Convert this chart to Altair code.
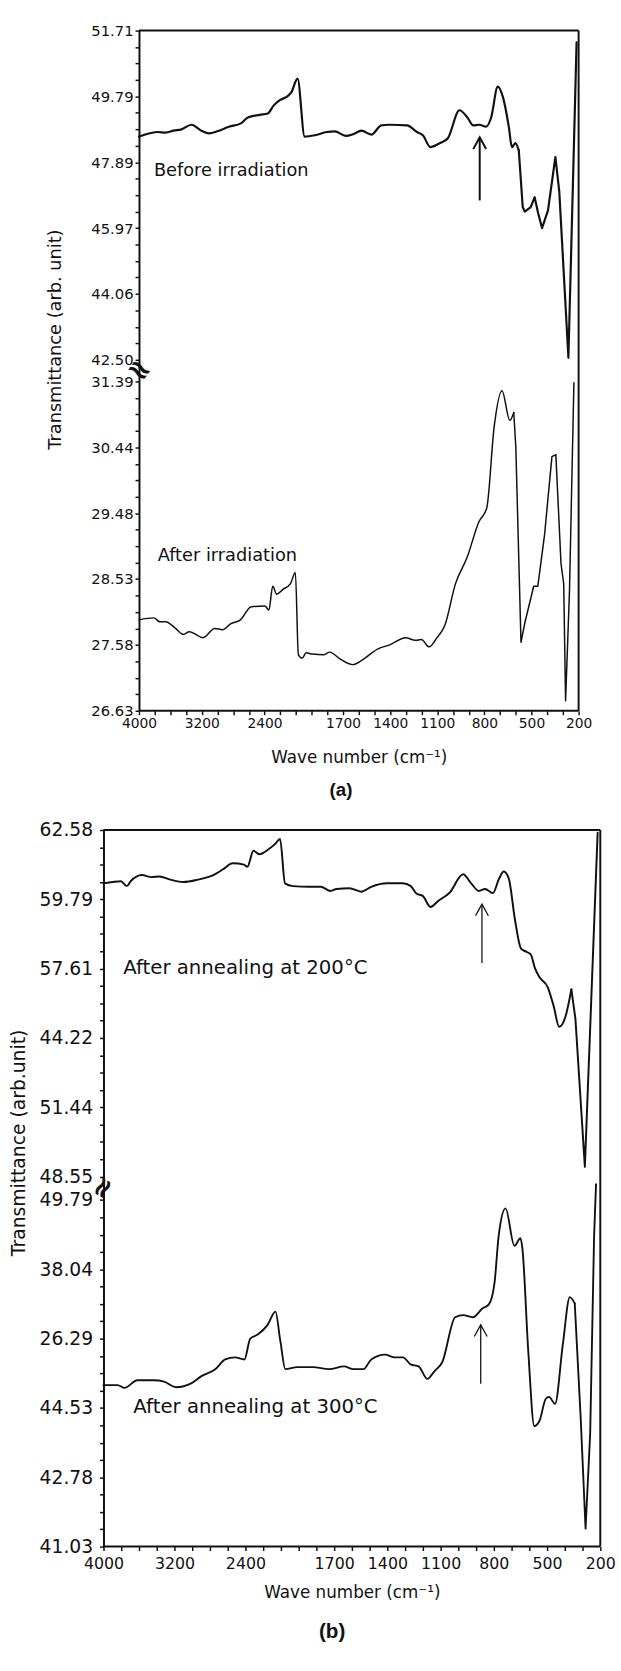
import json
import altair as alt
import pandas as pd

# ---------------- data ----------------
# x: wave number (cm-1); t: position in axis divisions counted from the frame bottom
A_BEFORE_WN = [4000, 3862, 3760, 3660, 3560, 3458, 3332, 3206, 3106, 3004,
               2854, 2702, 2614, 2462, 2360, 2286, 2210, 2110, 2060, 1990,
               1945, 1880, 1803, 1753, 1683, 1633, 1583, 1520, 1457, 1406,
               1293, 1230, 1192, 1144, 1085, 1034, 959, 908, 871, 833,
               789, 757, 715, 682, 644, 625, 603, 581, 556, 543,
               505, 480, 458, 433, 395, 348, 323, 265, 213]
A_BEFORE_T = [8.72, 8.77, 8.79, 8.78, 8.81, 8.83, 8.90, 8.81, 8.77, 8.80,
              8.87, 8.92, 9.01, 9.05, 9.07, 9.19, 9.27, 9.33, 9.39, 9.60,
              8.72, 8.74, 8.79, 8.80, 8.73, 8.76, 8.81, 8.75, 8.89, 8.90,
              8.89, 8.79, 8.74, 8.56, 8.62, 8.69, 9.12, 9.01, 8.89, 8.90,
              8.87, 9.01, 9.48, 9.32, 8.86, 8.56, 8.62, 8.51, 7.65, 7.58,
              7.65, 7.80, 7.56, 7.33, 7.60, 8.41, 7.88, 5.36, 10.15]

A_AFTER_WN = [4000, 3810, 3734, 3660, 3534, 3434, 3360, 3184, 3034, 2934,
              2834, 2708, 2570, 2396, 2346, 2296, 2246, 2170, 2070, 2008,
              1985, 1960, 1935, 1897, 1822, 1785, 1722, 1640, 1578, 1478,
              1403, 1302, 1240, 1202, 1152, 1102, 1053, 984, 910, 835,
              785, 738, 688, 638, 613, 600, 567, 542, 486, 460,
              417, 370, 345, 312, 295, 283, 258, 230]
A_AFTER_T = [1.38, 1.41, 1.35, 1.35, 1.25, 1.16, 1.20, 1.11, 1.25, 1.23,
             1.32, 1.38, 1.58, 1.59, 1.53, 1.89, 1.77, 1.84, 1.93, 2.10,
             0.85, 0.80, 0.88, 0.86, 0.85, 0.89, 0.79, 0.70, 0.77, 0.94,
             1.00, 1.11, 1.07, 1.08, 0.97, 1.11, 1.29, 1.93, 2.33, 2.87,
             3.08, 4.31, 4.86, 4.41, 4.53, 4.01, 1.04, 1.34, 1.89, 1.89,
             2.67, 3.86, 3.89, 2.23, 1.93, 0.15, 1.83, 4.98]

B_200_WN = [4000, 3894, 3804, 3738, 3694, 3566, 3460, 3370, 3236, 3102,
            2946, 2746, 2656, 2544, 2416, 2378, 2310, 2244, 2132, 2064,
            2010, 1977, 1932, 1843, 1776, 1720, 1687, 1614, 1547, 1491,
            1402, 1313, 1268, 1235, 1201, 1157, 1112, 1051, 973, 928,
            884, 850, 805, 772, 744, 716, 680, 647, 614, 591,
            569, 541, 496, 463, 432, 396, 363, 340, 287, 215]
B_200_T = [9.57, 9.59, 9.60, 9.53, 9.60, 9.69, 9.66, 9.67, 9.62, 9.59,
           9.62, 9.70, 9.77, 9.86, 9.84, 9.81, 10.04, 9.99, 10.07, 10.14,
           10.21, 9.57, 9.53, 9.52, 9.52, 9.46, 9.49, 9.50, 9.45, 9.52,
           9.57, 9.57, 9.53, 9.42, 9.39, 9.23, 9.32, 9.43, 9.70, 9.57,
           9.46, 9.49, 9.43, 9.63, 9.74, 9.64, 9.03, 8.63, 8.58, 8.54,
           8.35, 8.21, 8.07, 7.80, 7.50, 7.65, 8.04, 7.61, 5.48, 10.30]

B_300_WN = [4000, 3840, 3764, 3618, 3430, 3318, 3184, 3006, 2896, 2740,
            2628, 2518, 2412, 2346, 2262, 2150, 2062, 2006, 1975, 1908,
            1819, 1730, 1644, 1591, 1535, 1491, 1413, 1358, 1313, 1269,
            1224, 1174, 1135, 1091, 1018, 974, 918, 863, 829, 796,
            773, 734, 684, 650, 639, 606, 572, 542, 508, 489,
            455, 411, 372, 344, 311, 283, 257, 235, 224]
B_300_T = [2.33, 2.33, 2.29, 2.40, 2.40, 2.38, 2.30, 2.36, 2.46, 2.56,
           2.70, 2.73, 2.70, 3.00, 3.06, 3.20, 3.39, 2.96, 2.56, 2.59,
           2.59, 2.56, 2.60, 2.56, 2.56, 2.70, 2.77, 2.73, 2.73, 2.63,
           2.60, 2.42, 2.53, 2.66, 3.31, 3.34, 3.31, 3.44, 3.49, 3.81,
           4.48, 4.88, 4.34, 4.45, 4.30, 2.82, 1.74, 1.82, 2.13, 2.16,
           2.06, 2.92, 3.60, 3.51, 1.88, 0.26, 1.64, 4.48, 5.23]

# wave number below which each trace is drawn with straight (sharp) segments
A_BEFORE_SHARP_FROM = 581
A_AFTER_SHARP_FROM = 613
B_200_SHARP_FROM = 363
B_300_SHARP_FROM = 344

# axis tick labels
X_LABEL_VALUES = [4000, 3200, 2400, 1700, 1400, 1100, 800, 500, 200]
X_TICK_VALUES = list(range(4000, 1999, -200)) + list(range(1900, 199, -100))

A_Y_POS = [0, 1, 2, 3, 4, 5, 5.33, 6.33, 7.33, 8.33, 9.33, 10.33]
A_Y_LABELS = ["26.63", "27.58", "28.53", "29.48", "30.44", "31.39",
              "42.50", "44.06", "45.97", "47.89", "49.79", "51.71"]
B_Y_POS = [0, 1, 2, 3, 4, 5, 5.34, 6.34, 7.34, 8.34, 9.34, 10.34]
B_Y_LABELS = ["41.03", "42.78", "44.53", "26.29", "38.04", "49.79",
              "48.55", "51.44", "44.22", "57.61", "59.79", "62.58"]

# in-plot annotations
A_TEXT_LABELS = ["Before irradiation", "After irradiation"]
A_TEXT_WN = [3810, 3762]
A_TEXT_T = [8.19, 2.35]
B_TEXT_LABELS = ["After annealing at 200°C", "After annealing at 300°C"]
B_TEXT_WN = [3778, 3664]
B_TEXT_T = [8.35, 2.02]
A_ARROW_WN, A_ARROW_TAIL, A_ARROW_TIP = [830], [7.75], [8.71]
B_ARROW_WN, B_ARROW_TAIL, B_ARROW_TIP = [867, 874], [8.42, 2.35], [9.27, 3.20]

FONT = "DejaVu Sans"
INK = "#111111"


def minor_ticks(upper_start):
    low = [round(k * 0.25, 2) for k in range(0, 21)]
    up = [round(upper_start + k * 0.25, 2) for k in range(0, 21)]
    return low + up


def label_expr(pos, labels):
    p = json.dumps(pos)
    l = json.dumps(labels)
    return f"indexof({p}, datum.value) >= 0 ? {l}[indexof({p}, datum.value)] : ''"


def panel(series, texts, arrows, ypos, ylabels, top, W, H, xl, cfg, tag):
    xscale = alt.Scale(domain=[4000, 2000, 200],
                       range=[xl, xl + (W - xl) * 10 / 28, W], nice=False, zero=False)
    yscale = alt.Scale(domain=[0, top], nice=False, zero=False)
    xaxis = alt.Axis(values=X_TICK_VALUES,
                     labelExpr=label_expr(X_LABEL_VALUES, [str(v) for v in X_LABEL_VALUES]),
                     domain=False, grid=False, tickSize=4, tickWidth=1.5, tickColor=INK,
                     labelFont=FONT, labelFontSize=cfg["xlab"], labelColor=INK,
                     labelPadding=cfg["xpad"], labelOverlap=False, labelFlush=False,
                     title="Wave number (cm⁻¹)", titleFont=FONT, titleFontSize=cfg["xtitle"],
                     titleFontWeight="normal", titleColor=INK, titlePadding=cfg["xtpad"])
    yaxis = alt.Axis(values=minor_ticks(ypos[6]),
                     labelExpr=label_expr(ypos, ylabels),
                     offset=-xl, domain=True, domainColor=INK, domainWidth=2,
                     grid=False, tickSize=4, tickWidth=1.5, tickColor=INK,
                     labelFont=FONT, labelFontSize=cfg["ylab"], labelColor=INK,
                     labelPadding=cfg["ypad"], labelOverlap=False, labelFlush=False,
                     title=cfg["ytext"], titleFont=FONT,
                     titleFontSize=cfg["ytitle"], titleFontWeight="normal", titleColor=INK,
                     titleAngle=270, titleAlign="center", titleBaseline="middle",
                     titleX=cfg["titleX"], titleY=cfg["titleY"])
    X = alt.X("wn:Q", scale=xscale, axis=xaxis)
    Y = alt.Y("t:Q", scale=yscale, axis=yaxis)

    layers = []
    for wn, t, sw, sharp_from in series:
        df = pd.DataFrame({"wn": wn, "t": t, "i": range(len(wn))})
        smooth = df[df["wn"] >= sharp_from]
        sharp = df[df["wn"] <= sharp_from]
        layers.append(alt.Chart(smooth).mark_line(color=INK, strokeWidth=sw,
                                                  strokeJoin="round", strokeCap="round",
                                                  interpolate="monotone")
                      .encode(x=X, y=Y, order="i:Q"))
        layers.append(alt.Chart(sharp).mark_line(color=INK, strokeWidth=sw,
                                                 strokeJoin="round", strokeCap="round",
                                                 interpolate="linear")
                      .encode(x=X, y=Y, order="i:Q"))

    frame = pd.DataFrame({"wn": [4000, 4000, 200], "wn2": [200, 200, 200],
                          "t": [0, top, 0], "t2": [0, top, top]})
    layers.append(alt.Chart(frame).mark_rule(color=INK, strokeWidth=cfg["frame"])
                  .encode(x=X, x2="wn2:Q", y=Y, y2="t2:Q"))

    tx = pd.DataFrame({"wn": texts[0], "t": texts[1], "label": texts[2]})
    layers.append(alt.Chart(tx).mark_text(align="left", baseline="middle", font=FONT,
                                          fontSize=cfg["ann"], color=INK)
                  .encode(x=X, y=Y, text="label:N"))

    ar = pd.DataFrame({"wn": arrows[0], "t": arrows[1], "t2": arrows[2]})
    layers.append(alt.Chart(ar).mark_rule(color=INK, strokeWidth=cfg["arrow"])
                  .encode(x=X, y=Y, y2="t2:Q"))
    head = pd.DataFrame({"wn": arrows[0], "t": arrows[2]})
    layers.append(alt.Chart(head).mark_point(shape="M-0.55,1L0,0L0.55,1", filled=False,
                                             size=560, color=INK, strokeWidth=cfg["arrow"],
                                             opacity=1)
                  .encode(x=X, y=Y))

    brk = pd.DataFrame({"wn": [4000], "t": [(ypos[5] + ypos[6]) / 2], "label": ["≈"]})
    layers.append(alt.Chart(brk).mark_text(font=FONT, fontSize=cfg["brk"], fontWeight="bold",
                                           angle=cfg["brkangle"], color=INK)
                  .encode(x=X, y=Y, text="label:N"))

    return alt.layer(*layers).properties(
        width=W, height=H,
        title=alt.TitleParams(tag, orient="bottom", anchor="middle", frame="group",
                              font="Liberation Sans", fontSize=cfg["tag"], fontWeight="bold",
                              color=INK, offset=cfg["tagoff"], dx=cfg["tagdx"]))


cfg_a = dict(xlab=14, xpad=2, xtitle=17, xtpad=20, ylab=15, ypad=2, ytitle=18,
             ytext="Transmittance  (arb. unit)",
             titleX=-85, titleY=313, frame=2, ann=18, arrow=2, brk=30, brkangle=35,
             tag=19, tagoff=16, tagdx=0)
cfg_b = dict(xlab=16, xpad=5, xtitle=17, xtpad=14, ylab=19, ypad=7, ytitle=19,
             ytext="Transmittance  (arb.unit)",
             titleX=-86, titleY=317, frame=2, ann=20, arrow=1.3, brk=28, brkangle=300,
             tag=21, tagoff=21, tagdx=-20)

chart_a = panel([(A_BEFORE_WN, A_BEFORE_T, 2.2, A_BEFORE_SHARP_FROM),
                 (A_AFTER_WN, A_AFTER_T, 1.5, A_AFTER_SHARP_FROM)],
                (A_TEXT_WN, A_TEXT_T, A_TEXT_LABELS),
                (A_ARROW_WN, A_ARROW_TAIL, A_ARROW_TIP),
                A_Y_POS, A_Y_LABELS, 10.33, 482, 690, 36, cfg_a, "(a)")
chart_b = panel([(B_200_WN, B_200_T, 2.0, B_200_SHARP_FROM),
                 (B_300_WN, B_300_T, 1.9, B_300_SHARP_FROM)],
                (B_TEXT_WN, B_TEXT_T, B_TEXT_LABELS),
                (B_ARROW_WN, B_ARROW_TAIL, B_ARROW_TIP),
                B_Y_POS, B_Y_LABELS, 10.34, 504, 727, 0, cfg_b, "(b)")

chart = alt.vconcat(chart_a, chart_b, spacing=21).properties(
    padding={"left": 10, "top": 12, "right": 5, "bottom": 5},
    background="white",
).configure_view(stroke=None)

chart.save("out.html", embed_options={"renderer": "svg", "actions": False})
